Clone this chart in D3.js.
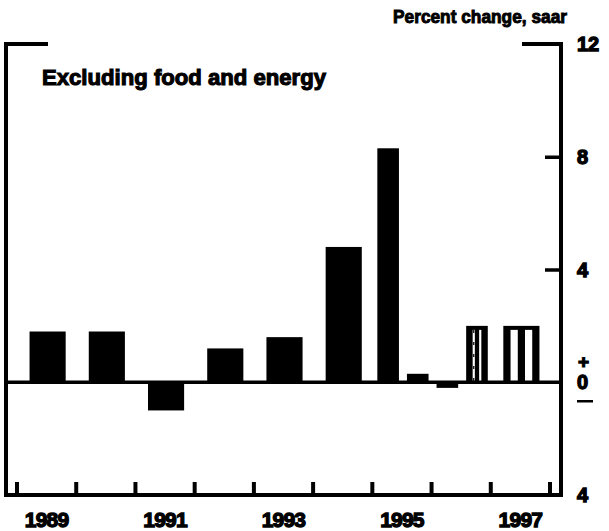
<!DOCTYPE html>
<html>
<head>
<meta charset="utf-8">
<script src="https://cdn.jsdelivr.net/npm/d3@7"></script>
<style>
  html, body { margin: 0; padding: 0; background: #fff; }
  svg { display: block; }
  text { font-family: "Liberation Sans", Arial, sans-serif; font-weight: bold; fill: #000; }
</style>
</head>
<body>
<svg id="chart" width="609" height="531"></svg>
<script>
// Core CPI inflation, percent change at seasonally adjusted annual rate
const periods     = ["1989", "1990", "1991", "1992", "1993", "1994", "1995 H1", "1995 H2", "1996 H1", "1996 H2", "1997"];
const periodStart = [1989, 1990, 1991, 1992, 1993, 1994, 1995, 1995.5, 1996, 1996.5, 1997];
const periodEnd   = [1990, 1991, 1992, 1993, 1994, 1995, 1995.5, 1996, 1996.5, 1997, 1998];
const values      = [1.8, 1.8, -1.0, 1.2, 1.6, 4.8, 8.3, 0.3, -0.2, 2.0, 2.0];
const barKind     = ["actual", "actual", "actual", "actual", "actual", "actual", "actual", "actual", "actual", "partial", "projected"];

const yearTicks   = [1989, 1990, 1991, 1992, 1993, 1994, 1995, 1996, 1997, 1998];
const yearLabels  = [1989, 1991, 1993, 1995, 1997];
const valueTicks  = [8, 4];
const valueLabels = [
  { v: 12, text: "12" },
  { v: 8,  text: "8" },
  { v: 4,  text: "4" },
  { v: 0,  text: "0" },
  { v: -4, text: "4" }
];

const svg = d3.select("#chart");

const frameL = 6, frameR = 561, frameT = 44, frameB = 495;
const x = d3.scaleLinear().domain([1989, 1998]).range([16.5, 549.5]);
const y = d3.scaleLinear().domain([-4, 12]).range([frameB, frameT]);

const data = periods.map((p, i) => ({
  period: p, start: periodStart[i], end: periodEnd[i], value: values[i], kind: barKind[i]
}));

// Bar geometry: annual bars fill ~61% of the year, half-year bars ~73% of the half
function barGeom(d) {
  const span = x(d.end) - x(d.start);
  const frac = (d.end - d.start) >= 1 ? 0.61 : 0.73;
  const w = span * frac;
  const cx = (x(d.start) + x(d.end)) / 2 + 1.5;
  const y0 = y(0), y1 = y(d.value);
  return { x: cx - w / 2, w, top: Math.min(y0, y1), h: Math.abs(y1 - y0) };
}

const bars = svg.append("g").attr("class", "bars");
data.forEach(d => {
  const g = barGeom(d);
  bars.append("rect")
    .attr("x", g.x).attr("y", g.top)
    .attr("width", g.w).attr("height", g.h)
    .attr("fill", "#000");
  if (d.kind === "projected" || d.kind === "partial") {
    // open vertical stripes inside the bar
    const gapW = d.kind === "projected" ? g.w * 0.2 : 2.2;
    const gaps = d.kind === "projected" ? [0.2, 0.6] : [0.3, 0.6];
    gaps.forEach(f => {
      bars.append("rect")
        .attr("x", g.x + g.w * f)
        .attr("y", g.top + 4)
        .attr("width", gapW)
        .attr("height", g.h - 4)
        .attr("fill", "#fff");
    });
    if (d.kind === "partial") {
      // broken stroke through the first gap
      bars.append("line")
        .attr("x1", g.x + g.w * 0.3 + gapW / 2).attr("x2", g.x + g.w * 0.3 + gapW / 2)
        .attr("y1", g.top + 4).attr("y2", y(0))
        .attr("stroke", "#000").attr("stroke-width", 1.2)
        .attr("stroke-dasharray", "3,9");
    }
  }
});

// Zero line
svg.append("line")
  .attr("x1", frameL).attr("x2", frameR)
  .attr("y1", y(0)).attr("y2", y(0))
  .attr("stroke", "#000").attr("stroke-width", 3.5);

// Year ticks along the bottom, pointing inward
svg.append("g")
  .attr("transform", `translate(0,${frameB})`)
  .call(d3.axisBottom(x).tickValues(yearTicks).tickSize(-13).tickFormat(""))
  .call(g => g.select(".domain").remove())
  .call(g => g.selectAll("line").attr("stroke", "#000").attr("stroke-width", 4));

// Year labels centered under each labelled year
svg.append("g")
  .attr("transform", `translate(0,${frameB})`)
  .call(d3.axisBottom(x).tickValues(yearLabels.map(v => v + 0.5)).tickSize(0).tickPadding(17)
    .tickFormat(v => String(Math.floor(v))))
  .call(g => g.select(".domain").remove())
  .call(g => g.selectAll("text")
    .attr("font-size", 21).attr("fill", "#000")
    .attr("stroke", "#000").attr("stroke-width", 1.3)
    .attr("letter-spacing", -0.8)
    .style("font-family", "'Liberation Sans', Arial, sans-serif")
    .style("font-weight", "bold"));

// Right value axis ticks, pointing inward
svg.append("g")
  .attr("transform", `translate(${frameR},0)`)
  .call(d3.axisRight(y).tickValues(valueTicks).tickSize(-16).tickFormat(""))
  .call(g => g.select(".domain").remove())
  .call(g => g.selectAll("line").attr("stroke", "#000").attr("stroke-width", 3.5));

// Frame: left/right verticals, bottom rule and top corner stubs
const frame = svg.append("g").attr("stroke", "#000").attr("stroke-width", 4).attr("fill", "none");
frame.append("path").attr("d", `M${frameL},${frameB} L${frameL},${frameT} L${frameL + 42},${frameT}`);
frame.append("path").attr("d", `M${frameR - 39},${frameT} L${frameR},${frameT} L${frameR},${frameB}`);
frame.append("line").attr("x1", frameL - 2).attr("x2", frameR + 2).attr("y1", frameB).attr("y2", frameB);

// Right value labels
const labelX = 577;
svg.append("g").selectAll("text")
  .data(valueLabels)
  .join("text")
  .attr("x", labelX)
  .attr("y", d => y(d.v))
  .attr("dy", "0.36em")
  .attr("font-size", 20)
  .attr("stroke", "#000").attr("stroke-width", 1.3)
  .text(d => d.text);

// Sign markers around zero
svg.append("text").attr("x", labelX + 1).attr("y", y(0) - 21).attr("dy", "0.36em")
  .attr("font-size", 19).attr("stroke", "#000").attr("stroke-width", 1.2).text("+");
svg.append("line")
  .attr("x1", labelX).attr("x2", labelX + 16)
  .attr("y1", y(0) + 19).attr("y2", y(0) + 19)
  .attr("stroke", "#000").attr("stroke-width", 2.5);

// Units note and panel title
svg.append("text")
  .attr("x", 567).attr("y", 23)
  .attr("text-anchor", "end")
  .attr("font-size", 19)
  .attr("stroke", "#000").attr("stroke-width", 1.0)
  .attr("textLength", 174).attr("lengthAdjust", "spacingAndGlyphs")
  .text("Percent change, saar");

svg.append("text")
  .attr("x", 42).attr("y", 85)
  .attr("font-size", 22)
  .attr("stroke", "#000").attr("stroke-width", 1.1)
  .attr("textLength", 284).attr("lengthAdjust", "spacingAndGlyphs")
  .text("Excluding food and energy");
</script>
</body>
</html>
